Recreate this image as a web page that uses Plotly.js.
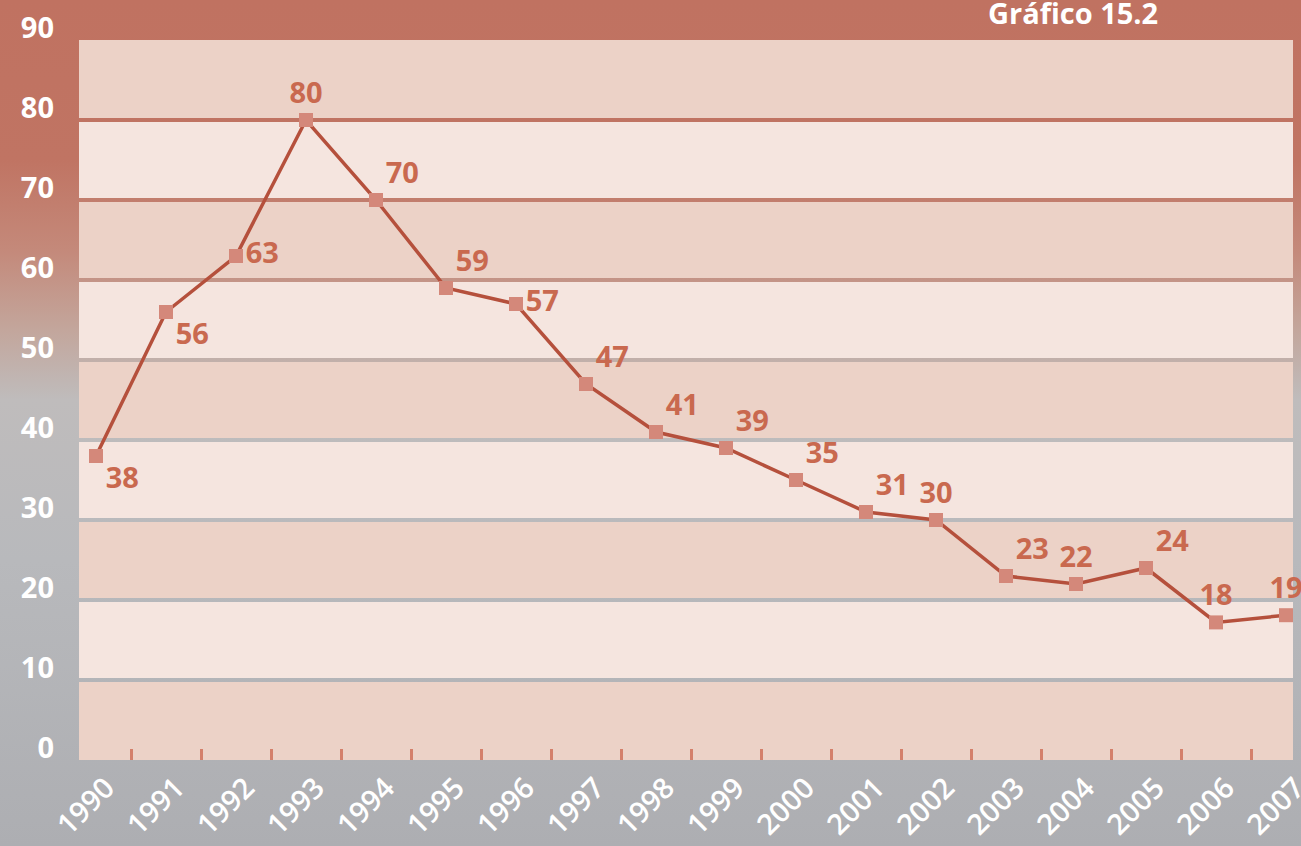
<!DOCTYPE html>
<html>
<head>
<meta charset="utf-8">
<script src="https://cdn.plot.ly/plotly-3.0.1.min.js"></script>
<style>
  html, body { margin: 0; padding: 0; }
  #chart {
    width: 1301px; height: 846px;
    background: linear-gradient(180deg, #c07261 0px, #c07463 160px, #c4897a 250px, #c3a69c 330px, #bfbcbc 400px, #b8b9bc 560px, #adaeb2 846px);
  }
</style>
</head>
<body>
<div id="chart"></div>
<script>
const years = [1990, 1991, 1992, 1993, 1994, 1995, 1996, 1997, 1998, 1999, 2000, 2001, 2002, 2003, 2004, 2005, 2006, 2007];
const values = [38, 56, 63, 80, 70, 59, 57, 47, 41, 39, 35, 31, 30, 23, 22, 24, 17.2, 18.1];
const labels = ['38', '56', '63', '80', '70', '59', '57', '47', '41', '39', '35', '31', '30', '23', '22', '24', '18', '19'];
const yTicks = [0, 10, 20, 30, 40, 50, 60, 70, 80, 90];
const chartTitle = 'Gráfico 15.2';

const labelPositions = ['bottom right', 'bottom right', 'middle right', 'top center', 'top right', 'top right',
  'middle right', 'top right', 'top right', 'top right', 'top right', 'top right', 'top center',
  'top right', 'top center', 'top right', 'top center', 'top center'];

const FONT = 'Open Sans, Roboto, sans-serif';

// background bands with small gaps (gaps show the page gradient as grid lines)
const bandColors = ['#ecd2c7', '#f5e5df'];
const shapes = [];
const gap = 0.26;
for (let i = 0; i < yTicks.length - 1; i++) {
  shapes.push({
    type: 'rect', xref: 'paper', yref: 'y', layer: 'below',
    x0: 0, x1: 1,
    y0: yTicks[i] + (i > 0 ? gap : 0),
    y1: yTicks[i + 1] - (i < yTicks.length - 2 ? gap : 0),
    fillcolor: bandColors[i % 2], line: { width: 0 }
  });
}

const trace = {
  x: years, y: values, text: labels,
  type: 'scatter', mode: 'lines+markers+text',
  line: { color: '#b5503c', width: 3.5 },
  marker: { symbol: 'square', size: 14, color: '#d4887a' },
  textposition: labelPositions,
  textfont: { family: FONT, size: 29, color: '#c9694f', weight: 700 },
  cliponaxis: false,
  hoverinfo: 'x+y'
};

const layout = {
  width: 1301, height: 846,
  margin: { l: 79, r: 8, t: 40, b: 86 },
  paper_bgcolor: 'rgba(0,0,0,0)',
  plot_bgcolor: 'rgba(0,0,0,0)',
  showlegend: false,
  shapes: shapes,
  xaxis: {
    range: [1989.757, 2007.1],
    tickmode: 'array', tickvals: years, ticktext: years.map(String),
    tickangle: -45,
    ticks: '', showgrid: false, zeroline: false, showline: false,
    tickfont: { family: FONT, size: 29, color: '#ffffff', weight: 600 },
    ticklabelstandoff: 4,
    ticklabelshift: 10,
    ticklabeloverflow: 'allow',
    minor: { tick0: 1990.5, dtick: 1, ticks: 'inside', ticklen: 11, tickwidth: 3, tickcolor: '#d4806b', showgrid: false }
  },
  yaxis: {
    range: [0, 90],
    tickmode: 'array', tickvals: yTicks,
    ticks: '', showgrid: false, zeroline: false, showline: false,
    tickfont: { family: FONT, size: 29, color: '#ffffff', weight: 700 },
    ticklabelstandoff: 24,
    ticklabelshift: -12
  },
  annotations: [{
    text: chartTitle, xref: 'paper', yref: 'paper',
    x: 0.8905, y: 1.009, xanchor: 'right', yanchor: 'bottom',
    showarrow: false,
    font: { family: FONT, size: 29, color: '#ffffff', weight: 700 }
  }]
};

Plotly.newPlot('chart', [trace], layout, { displayModeBar: false, staticPlot: true });
</script>
</body>
</html>
